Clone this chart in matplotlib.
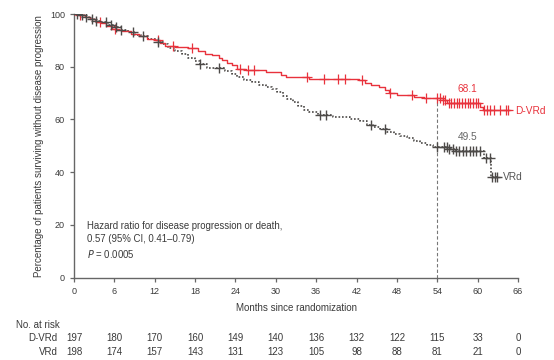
import numpy as np
import matplotlib
matplotlib.use("Agg")
import matplotlib.pyplot as plt
import matplotlib.transforms as mtransforms

plt.rcParams['font.family'] = ['Liberation Sans', 'DejaVu Sans']

# Kaplan-Meier steps (time in months, % progression-free after the step)
dvrd_t = [0, 0.8, 1.6, 2.4, 3.2, 4.0, 4.8, 5.6, 6.4, 7.2, 8.4, 9.6, 10.8, 12.0, 12.8,
          13.5, 15.0, 17.0, 18.5, 19.5, 20.5, 21.5, 22.0, 22.7, 23.5, 24.2, 25.5, 28.5,
          30.8, 31.5, 35.0, 42.3, 43.3, 44.2, 45.3, 46.2, 46.8, 48.0, 50.5, 52.0, 54.8,
          55.5, 60.3, 60.8, 64.6]
dvrd_s = [100, 99.5, 99, 98, 97, 96.5, 95.5, 94.5, 94, 93.5, 92.5, 91.5, 90.5, 90, 89,
          88, 87.5, 87, 86, 85, 84.5, 83.5, 82.5, 81.3, 80.5, 79.3, 78.6, 78.0,
          76.8, 76.2, 75.5, 74.8, 74.0, 73.0, 72.2, 71.2, 70.2, 69.3, 68.7, 68.1, 67.3,
          66.3, 64.8, 63.6, 63.6]
vrd_t = [0, 0.8, 1.5, 2.2, 3.0, 4.0, 5.0, 6.0, 7.0, 8.0, 9.0, 10.0, 11.0, 12.3, 13.2,
         14.0, 15.0, 16.0, 17.0, 18.0, 18.8, 19.8, 22.5, 23.5, 24.3, 25.2, 26.5, 27.5,
         28.5, 29.5, 30.2, 31.0, 31.7, 32.5, 33.3, 34.2, 35.0, 36.3, 38.5, 41.0, 42.5,
         43.5, 44.5, 45.5, 46.5, 47.5, 48.5, 49.5, 50.5, 51.5, 52.5, 53.3, 55.5, 56.5,
         61.0, 62.0, 63.0]
vrd_s = [100, 99.5, 99, 98, 97.5, 97, 96, 95, 94, 93, 92, 91.5, 90.5, 89.5, 88.5,
         87, 86, 85, 83.5, 82.3, 81.2, 79.5, 78.5, 77.3, 76.2, 74.8, 74.2, 73.2,
         72.4, 71.6, 70.5, 69, 67.6, 66.5, 65, 63.6, 62.8, 61.5, 60.8, 60.0, 59.3,
         58.0, 57.2, 56.2, 55.4, 54.6, 53.8, 52.8, 51.8, 51.0, 50.2, 49.5, 48.6, 47.9,
         45.3, 38.3, 38.3]

# censoring times
dvrd_cens = [0.9, 3.9, 6.1, 12.5, 14.7, 17.5, 24.7, 25.8, 26.8, 34.6, 37.1, 39.3, 40.3,
             42.8, 47.0, 50.3, 52.3, 54.0, 54.4, 54.8, 55.2, 55.7, 56.1, 56.5, 56.9, 57.3,
             57.7, 58.1, 58.5, 58.9, 59.3, 59.7, 60.1, 61.0, 61.4, 61.8, 62.4, 63.3, 64.2, 64.5]
vrd_cens = [0.5, 1.2, 1.8, 2.6, 3.3, 4.8, 5.5, 6.2, 7.0, 8.8, 10.3, 12.5, 18.8, 21.5,
            36.6, 37.4, 44.1, 46.3, 54.0, 55.0, 55.4, 55.8, 56.3, 56.8, 57.3, 57.8, 58.3,
            58.8, 59.3, 59.8, 60.3, 61.3, 61.8, 62.2, 62.6, 62.9]

risk_months = [0, 6, 12, 18, 24, 30, 36, 42, 48, 54, 60, 66]
risk_dvrd = [197, 180, 170, 160, 149, 140, 136, 132, 122, 115, 33, 0]
risk_vrd = [198, 174, 157, 143, 131, 123, 105, 98, 88, 81, 21, 0]

red = '#e8323c'
dark = '#4d4a48'
txt = '#3a3a3a'


def step_at(t, times, surv):
    i = np.searchsorted(times, t, side='right') - 1
    return np.array(surv)[i]


fig = plt.figure(figsize=(5.54, 3.6), dpi=100)
ax = fig.add_axes([0.1336, 0.229, 0.8014, 0.732])

ax.step(dvrd_t, dvrd_s, where='post', color=red, lw=1.0, zorder=3)
ax.step(vrd_t, vrd_s, where='post', color=dark, lw=1.2, ls=(0, (1, 1.1)), zorder=2)
ax.plot(dvrd_cens, step_at(dvrd_cens, dvrd_t, dvrd_s), ls='none', marker='+',
        ms=6.5, mew=0.9, color=red, zorder=4)
ax.plot(vrd_cens, step_at(vrd_cens, vrd_t, vrd_s), ls='none', marker='+',
        ms=6.5, mew=1.0, color=dark, zorder=4)

# 54-month landmark
ax.plot([54, 54], [0, 68.1], color='#777777', lw=0.8, ls=(0, (3, 2)), zorder=1)
ax.text(58.5, 71.4, '68.1', color=red, fontsize=7.3, ha='center', va='center')
ax.text(58.5, 53.2, '49.5', color='#666666', fontsize=7.3, ha='center', va='center')
ax.text(65.6, 63.2, 'D-VRd', color=red, fontsize=7.3, ha='left', va='center')
ax.text(63.8, 38.1, 'VRd', color='#555555', fontsize=7.3, ha='left', va='center')

ax.text(1.9, 14.2, 'Hazard ratio for disease progression or death,\n'
        '0.57 (95% CI, 0.41\u20130.79)\n$\\it{P}$ = 0.0005',
        fontsize=6.9, color=txt, ha='left', va='center', linespacing=1.4)

ax.set_xlim(0, 66)
ax.set_ylim(0, 100)
ax.set_xticks(risk_months)
ax.set_yticks([0, 20, 40, 60, 80, 100])
for s in ['top', 'right']:
    ax.spines[s].set_visible(False)
for s in ['left', 'bottom']:
    ax.spines[s].set_color('#666666')
    ax.spines[s].set_linewidth(1.0)
ax.tick_params(length=3, width=0.9, color='#666666', labelsize=6.5, labelcolor=txt, pad=3.5)
ax.set_xlabel('Months since randomization', fontsize=7, color=txt, labelpad=5)
ax.set_ylabel('Percentage of patients surviving without disease progression',
              fontsize=7, color=txt, labelpad=4)

# number at risk table
trans = mtransforms.blended_transform_factory(ax.transData, fig.transFigure)
fig.text(0.029, 0.097, 'No. at risk', fontsize=7, color=txt, ha='left', va='center')
fig.text(0.104, 0.062, 'D-VRd', fontsize=7, color=txt, ha='right', va='center')
fig.text(0.104, 0.023, 'VRd', fontsize=7, color=txt, ha='right', va='center')
for m, a, b in zip(risk_months, risk_dvrd, risk_vrd):
    ax.text(m, 0.062, str(a), transform=trans, fontsize=7, color=txt, ha='center', va='center')
    ax.text(m, 0.023, str(b), transform=trans, fontsize=7, color=txt, ha='center', va='center')

fig.savefig('out.png', dpi=100)
